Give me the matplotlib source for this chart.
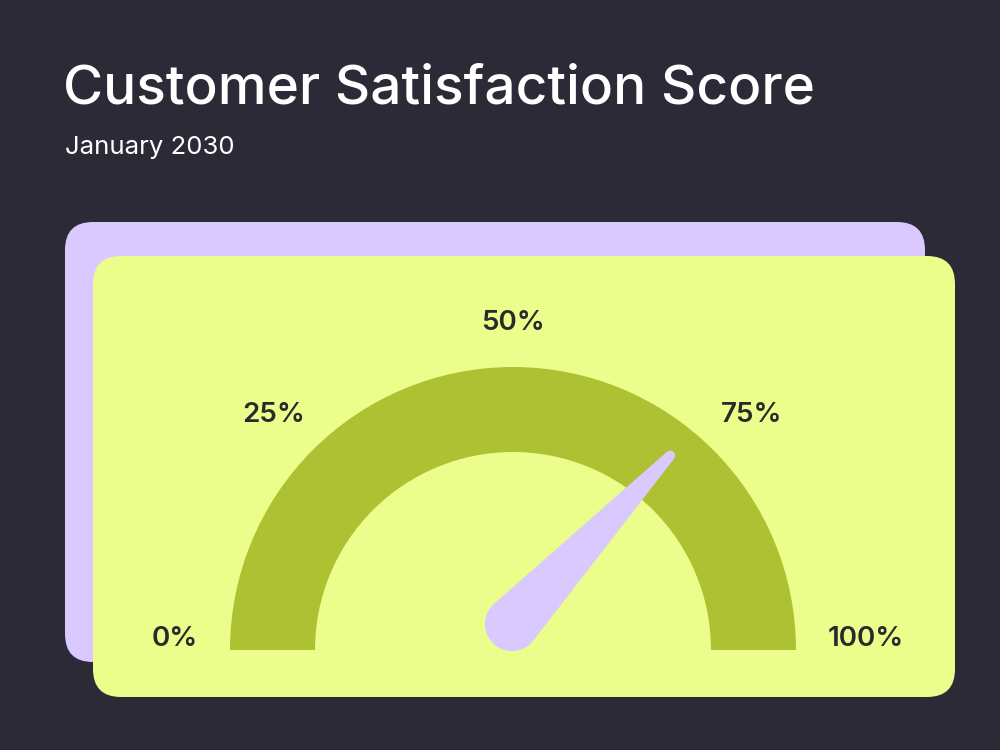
import numpy as np
import matplotlib.pyplot as plt
from matplotlib.patches import FancyBboxPatch, Wedge, Polygon

# --- data ---
title = "Customer Satisfaction Score"
subtitle = "January 2030"
score = 74  # percent shown by the needle
tick_values = [0, 25, 50, 75, 100]
tick_labels = ["0%", "25%", "50%", "75%", "100%"]

# --- style ---
BG = "#2c2a37"
LAVENDER = "#d9c9fe"
LIME = "#ebfd8a"
OLIVE = "#adc132"
TEXT_DARK = "#2a2a2a"
FONT = ["Inter", "DejaVu Sans"]

H = 750  # work in pixel units, y pointing up

fig = plt.figure(figsize=(10, 7.5), dpi=100, facecolor=BG)
ax = fig.add_axes([0, 0, 1, 1])
ax.set_xlim(0, 1000)
ax.set_ylim(0, H)
ax.axis("off")
ax.set_facecolor(BG)

# titles
ax.text(63, H - 104, title, color="white", fontsize=39.5, fontweight="medium",
        family=FONT, va="baseline", ha="left")
ax.text(65, H - 154, subtitle, color="white", fontsize=18.5, fontweight="normal",
        family=FONT, va="baseline", ha="left")

# stacked cards
ax.add_patch(FancyBboxPatch((65, H - 662), 860, 440,
                            boxstyle="round,pad=0,rounding_size=28",
                            fc=LAVENDER, ec="none"))
ax.add_patch(FancyBboxPatch((93, H - 697), 862, 441,
                            boxstyle="round,pad=0,rounding_size=28",
                            fc=LIME, ec="none"))

# gauge arc
cx, cy = 513, H - 650
r_out, r_in = 283, 198
ax.add_patch(Wedge((cx, cy), r_out, 0, 180, width=r_out - r_in,
                   fc=OLIVE, ec="none"))

# tick labels
lab_kw = dict(fontsize=20, fontweight="semibold", color=TEXT_DARK, family=FONT)
for v, lab in zip(tick_values, tick_labels):
    a = np.radians(180 - v * 1.8)
    if v == 0:
        ax.text(cx - 315, cy + 4, lab, ha="right", va="baseline", **lab_kw)
    elif v == 100:
        ax.text(cx + 315, cy + 4, lab, ha="left", va="baseline", **lab_kw)
    elif v == 50:
        ax.text(cx, cy + 327, lab, ha="center", va="center", **lab_kw)
    else:
        r = 338
        ax.text(cx + r * np.cos(a), cy + r * np.sin(a) - 4, lab, ha="center",
                va="center", **lab_kw)

# needle: tapered shape between a base circle and a small tip circle
px, py = 512, H - 624
r1, r2, length = 27, 5, 231
theta = np.radians(180 - score * 1.8)
tx, ty = px + length * np.cos(theta), py + length * np.sin(theta)
beta = np.arcsin((r1 - r2) / length)
half = np.pi / 2 - beta
base_arc = np.linspace(theta + half, theta + 2 * np.pi - half, 60)
tip_arc = np.linspace(theta - half, theta + half, 30)
pts = [(px + r1 * np.cos(t), py + r1 * np.sin(t)) for t in base_arc]
pts += [(tx + r2 * np.cos(t), ty + r2 * np.sin(t)) for t in tip_arc]
ax.add_patch(Polygon(pts, closed=True, fc=LAVENDER, ec="none"))

fig.savefig("out.png", dpi=100, facecolor=BG)
